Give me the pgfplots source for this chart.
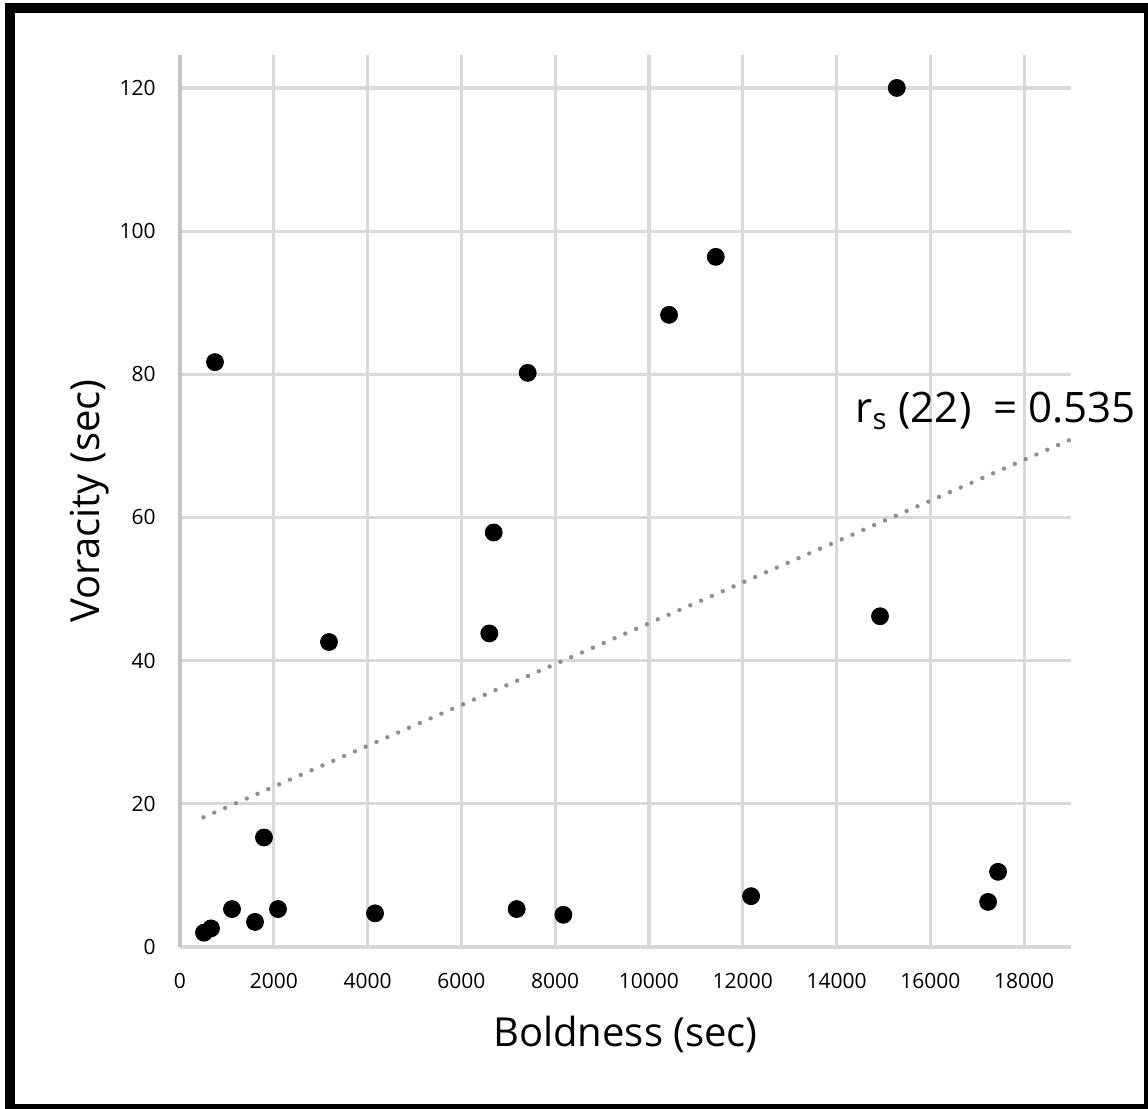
\documentclass[border=0pt]{standalone}
\usepackage{fontspec}
\setmainfont{Open Sans}
\usepackage{pgfplots}
\pgfplotsset{compat=1.18}
\definecolor{gridc}{HTML}{D9D9D9}
\definecolor{axc}{HTML}{C4C4C4}
\definecolor{trendc}{HTML}{8F8F8F}
\begin{document}
\begin{tikzpicture}
\useasboundingbox (0,0) rectangle (574pt,554.5pt);
\fill[black] (2.5pt,0) rectangle (574pt,553pt);
\fill[white] (7.5pt,2.5pt) rectangle (572pt,548pt);
\begin{axis}[
  at={(90pt,81pt)}, anchor=south west,
  scale only axis, width=445.5pt, height=446pt,
  xmin=0, xmax=19000, ymin=0, ymax=124.6,
  xtick={0,2000,...,18000}, ytick={0,20,...,120},
  scaled x ticks=false,
  /pgf/number format/1000 sep={},
  /pgf/number format/assume math mode=true,
  major tick length=0pt,
  grid=major,
  major grid style={draw=gridc, line width=1.6pt},
  axis x line*=bottom, axis y line*=left,
  x axis line style={-, draw=gridc, line width=1.6pt},
  y axis line style={-, draw=axc, line width=1.6pt},
  ticklabel style={font=\fontsize{10.5}{12}\selectfont, inner sep=0pt},
  xticklabel style={anchor=north, yshift=-13pt},
  yticklabel style={anchor=east, xshift=-12pt},
  xlabel={Boldness (sec)}, ylabel={Voracity (sec)},
  label style={font=\fontsize{20}{24}\selectfont},
  xlabel style={at={(axis description cs:0.5,-0.1121)}, anchor=base},
  ylabel style={at={(axis description cs:-0.0898,0.5)}, anchor=base},
  clip=false,
]
\addplot[draw=trendc, line width=2.2pt, line cap=round, dash pattern=on 0pt off 5.9pt]
  coordinates {(500,18.11) (19000,70.9)};
\addplot[only marks, mark=*, mark size=4.25pt, black] coordinates {
(512,2.0) (661,2.6) (1109,5.3) (1600,3.5) (1791,15.3) (2090,5.3)
(746,81.7) (3178,42.6) (4159,4.7) (6596,43.8) (6690,57.9) (7180,5.3)
(7415,80.2) (8175,4.5) (10429,88.3) (11425,96.4) (12178,7.1) (14928,46.2)
(15285,120.0) (17232,6.3) (17445,10.5)
};
\node[anchor=base west, inner sep=0pt, font=\fontsize{21}{25}\selectfont]
  at (axis cs:14395,73.2) {r\textsubscript{s} (22)\ \ = 0.535};
\end{axis}
\end{tikzpicture}
\end{document}
